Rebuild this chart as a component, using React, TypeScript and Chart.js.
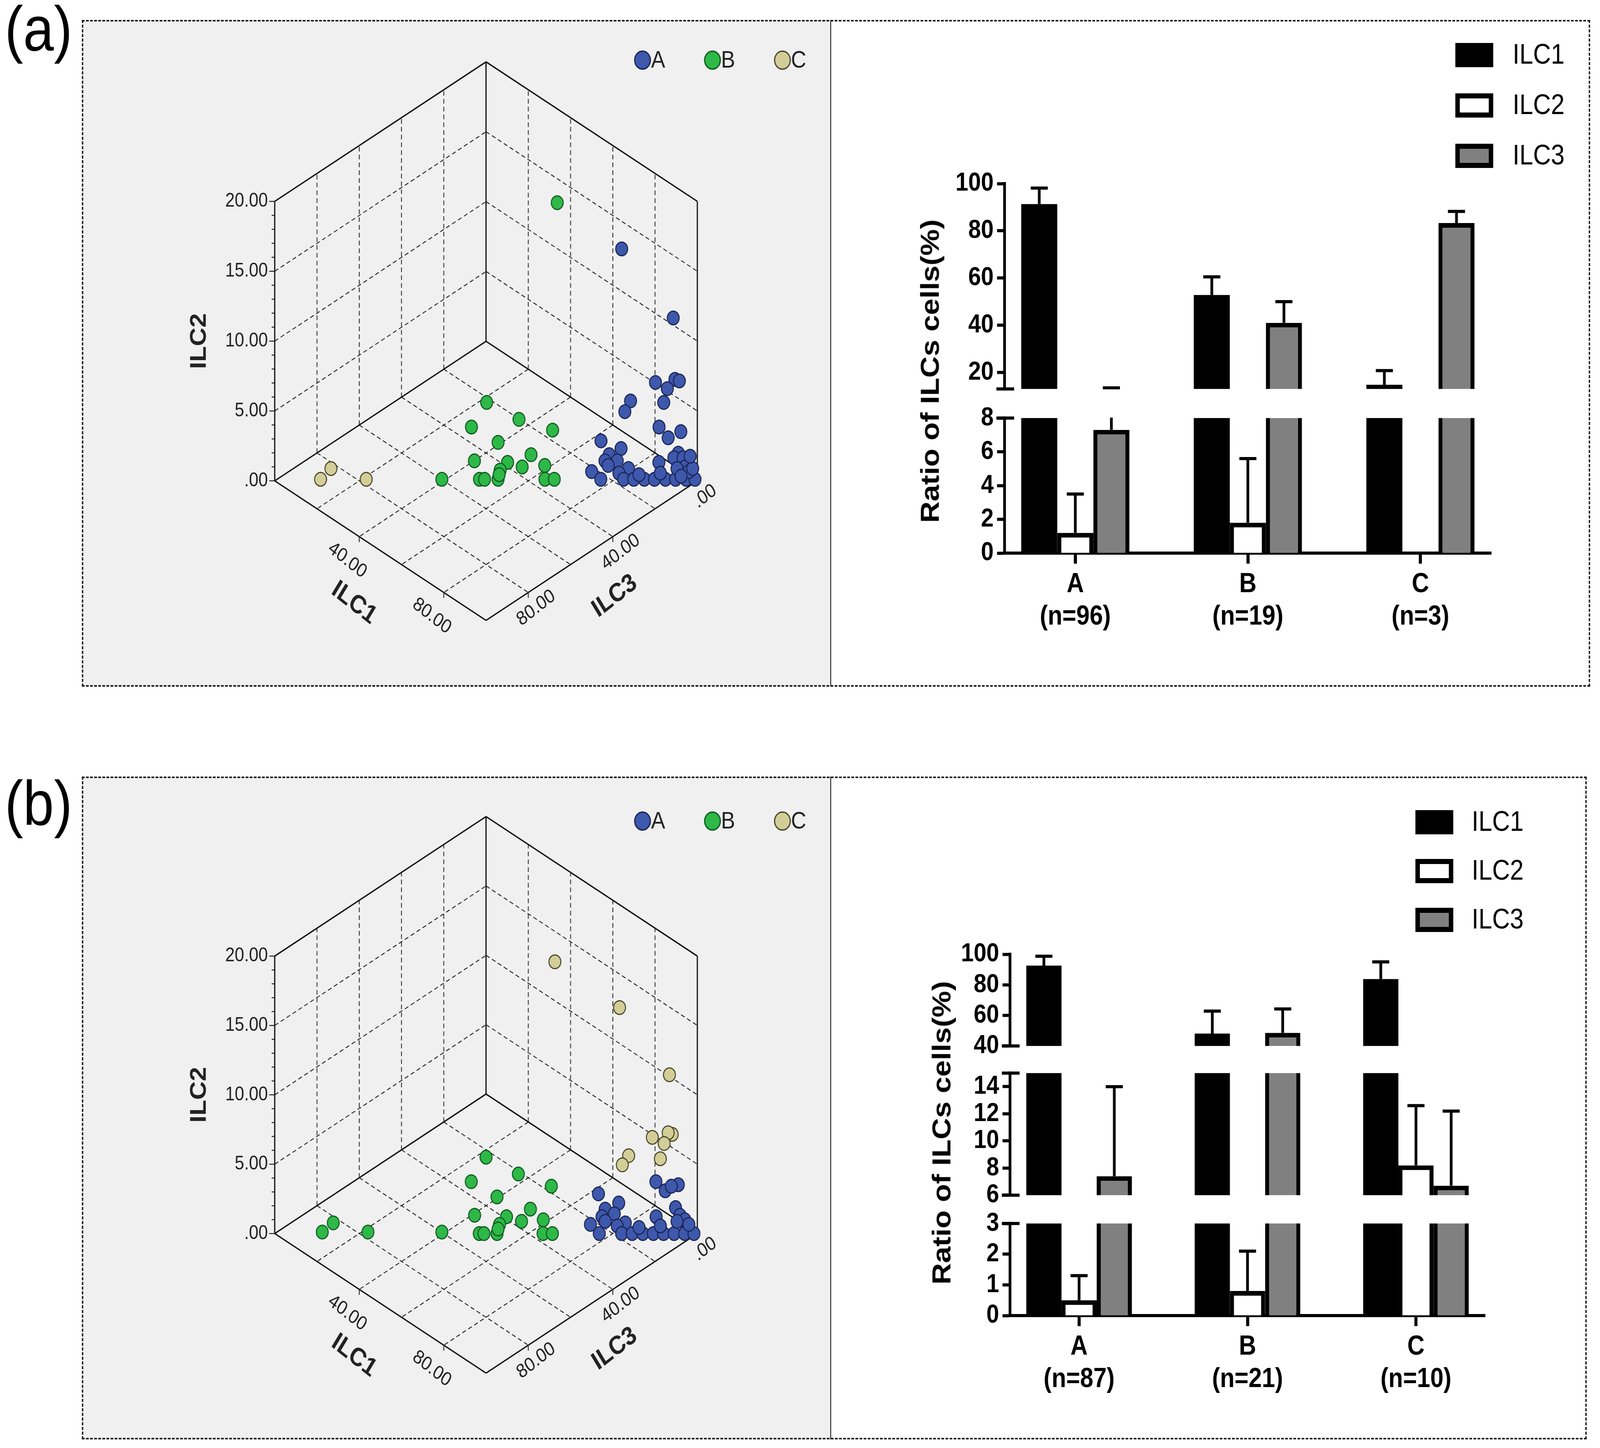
import { useEffect, useRef } from "react";
import { Chart, registerables } from "chart.js";

Chart.register(...registerables);

const FONT = '"Liberation Sans", Arial, Helvetica, sans-serif';
const PAGE_W = 4689;
const PAGE_H = 3707;

// the layout below is written in 4689 x 3707 figure pixels; fit it to the real viewport
const hasWin = typeof window !== "undefined";
const fitX = () => (hasWin && window.innerWidth ? window.innerWidth / PAGE_W : 1);
const fitY = () => (hasWin && window.innerHeight ? window.innerHeight / PAGE_H : 1);
const canvasRatio = () => Math.max(fitX(), fitY()) * ((hasWin && window.devicePixelRatio) || 1);

// ---------------- bar chart data (mean and SD, percent) ----------------
const cellTypes = ["ILC1", "ILC2", "ILC3"];
const groupTicks = [0, 1, 2];

const labelsA = [["A", "(n=96)"], ["B", "(n=19)"], ["C", "(n=3)"]];
const meanA_ILC1 = [91.3, 52.8, 14.8];
const sdA_ILC1 = [6.8, 7.7, 6.0];
const meanA_ILC2 = [1.2, 1.8, 0];
const sdA_ILC2 = [2.3, 3.8, 0];
const meanA_ILC3 = [7.3, 41.0, 83.3];
const sdA_ILC3 = [6.15, 9.0, 4.9];

const labelsB = [["A", "(n=87)"], ["B", "(n=21)"], ["C", "(n=10)"]];
const meanB_ILC1 = [92.6, 48.1, 83.8];
const sdB_ILC1 = [6.1, 14.7, 11.2];
const meanB_ILC2 = [0.5, 0.8, 8.2];
const sdB_ILC2 = [0.8, 1.3, 4.4];
const meanB_ILC3 = [7.4, 48.6, 6.7];
const sdB_ILC3 = [6.6, 15.6, 5.5];

const barFills = ["#000000", "#ffffff", "#808080"];

// ---------------- 3-D scatter data (ILC1 / ILC2 / ILC3 per sample) ----------------
// panel (a)
const a_A_ilc1 = [74.6, 89.0, 86.9, 91.4, 89.9, 92.5, 89.5, 81.6, 80.6, 89.2, 94.5, 91.7, 75.9, 80.9, 78.3, 94.6, 80.4, 77.5, 78.4, 74.7, 77.1, 83.3, 90.3, 93.7, 95.9, 81.2, 82.5, 84.9, 87.4, 89.8, 92.4, 94.8, 97.3, 99.4, 96.6, 94.8, 97.7, 86.0, 91.0, 96.0, 98.5, 97.5];
const a_A_ilc2 = [15.1, 10.6, 6.4, 6.6, 6.0, 6.5, 5.1, 5.2, 4.5, 3.5, 3.2, 2.8, 2.6, 2.1, 1.7, 1.8, 1.3, 1.3, 1.0, 0.6, 0.1, 0.8, 1.2, 1.5, 1.5, 0.5, 0.1, 0.1, 0.1, 0.1, 0.1, 0.1, 0.1, 0.1, 0.9, 0.8, 0.6, 0.4, 0.5, 0.3, 0.8, 1.6];
const a_A_ilc3 = [10.4, 0.4, 6.7, 2.0, 4.1, 1.0, 5.4, 13.2, 14.9, 7.3, 2.3, 5.5, 21.5, 17.0, 20.0, 3.6, 18.3, 21.2, 20.6, 24.7, 22.8, 15.9, 8.5, 4.8, 2.6, 18.3, 17.4, 15.0, 12.5, 10.1, 7.5, 5.1, 2.6, 0.5, 2.5, 4.4, 1.7, 13.6, 8.5, 3.7, 0.7, 0.9];

const a_B_ilc1 = [57.8, 47.6, 55.8, 44.8, 64.1, 51.6, 59.8, 46.6, 54.5, 58.1, 63.4, 53.0, 39.5, 48.4, 49.6, 52.8, 52.9, 63.9, 66.1];
const a_B_ilc2 = [18.1, 5.1, 4.0, 3.5, 3.3, 2.5, 1.7, 1.3, 1.2, 0.9, 1.0, 0.7, 0.1, 0.1, 0.1, 0.1, 0.4, 0.1, 0.1];
const a_B_ilc3 = [24.1, 47.3, 40.2, 51.7, 32.6, 45.9, 38.5, 52.1, 44.3, 41.0, 35.6, 46.3, 60.4, 51.5, 50.3, 47.1, 46.7, 36.0, 33.8];

const a_C_ilc1 = [10.8, 12.9, 21.6];
const a_C_ilc2 = [0.1, 0.8, 0.1];
const a_C_ilc3 = [89.1, 86.3, 78.3];

// panel (b)
const b_A_ilc1 = [88.5, 93.9, 91.0, 92.3, 75.3, 80.4, 77.4, 79.7, 76.9, 77.8, 74.4, 76.8, 82.6, 89.7, 94.0, 95.3, 96.9, 80.8, 82.1, 84.6, 87.1, 89.6, 92.0, 94.5, 97.0, 99.2, 96.6, 94.8, 97.7, 86.0, 91.0];
const b_A_ilc2 = [3.4, 3.2, 2.8, 3.1, 2.6, 2.0, 1.6, 1.3, 1.1, 0.8, 0.6, 0.0, 0.7, 1.1, 1.7, 1.2, 0.7, 0.5, 0.0, 0.0, 0.0, 0.0, 0.0, 0.0, 0.0, 0.0, 0.9, 0.8, 0.6, 0.4, 0.5];
const b_A_ilc3 = [8.1, 2.9, 6.2, 4.6, 22.1, 17.6, 21.0, 19.0, 22.0, 21.4, 25.0, 23.2, 16.7, 9.2, 4.3, 3.5, 2.4, 18.7, 17.9, 15.4, 12.9, 10.4, 8.0, 5.5, 3.0, 0.8, 2.5, 4.4, 1.7, 13.6, 8.5];

const b_B_ilc1 = [11.2, 13.5, 22.0, 39.5, 47.5, 55.7, 44.8, 63.9, 51.4, 59.7, 46.7, 54.3, 58.0, 63.1, 52.9, 48.4, 49.5, 52.6, 52.7, 63.5, 65.7];
const b_B_ilc2 = [0.1, 0.7, 0.1, 0.1, 5.0, 3.9, 3.4, 3.1, 2.4, 1.6, 1.2, 1.1, 0.8, 0.9, 0.6, 0.0, 0.0, 0.0, 0.3, 0.0, 0.0];
const b_B_ilc3 = [88.7, 85.8, 77.9, 60.4, 47.5, 40.4, 51.8, 33.0, 46.2, 38.7, 52.1, 44.6, 41.2, 36.0, 46.5, 51.6, 50.5, 47.4, 47.0, 36.5, 34.3];

const b_C_ilc1 = [57.4, 74.2, 88.2, 86.2, 90.8, 89.8, 89.2, 81.2, 80.0, 88.8];
const b_C_ilc2 = [17.8, 14.8, 10.4, 6.3, 6.5, 6.6, 5.9, 5.1, 4.5, 4.9];
const b_C_ilc3 = [24.8, 11.0, 1.4, 7.5, 2.7, 3.6, 4.9, 13.7, 15.5, 6.3];

const dotFills = ["#3E58AC", "#2EB848", "#D3CE97"];
const dotEdges = ["#1A2556", "#0E5A1E", "#4B472C"];

// oblique projection of the SPSS cube: ILC1 and ILC3 on the floor, ILC2 up
const FLOOR_X = 6.31;
const FLOOR_Y = 3.66;
function project(i1: number, i2: number, i3: number, wall: number) {
  return { x: FLOOR_X * (i1 - i3), y: FLOOR_Y * (i1 + i3) - (wall / 20) * i2 };
}

type Group = { name: string; ilc1: number[]; ilc2: number[]; ilc3: number[] };
type ScatterCfg = {
  left: number; top: number; width: number; height: number;
  kx: number; ky: number; wall: number;
  groups: Group[];
  legendX: number[]; legendY: number;
};

function makeCubePlugin(cfg: ScatterCfg) {
  return {
    id: "cube",
    beforeDatasetsDraw(chart: any) {
      const { ctx } = chart;
      const xs = chart.scales.x;
      const ys = chart.scales.y;
      const P = (a: number, b: number, c: number): [number, number] => {
        const p = project(a, b, c, cfg.wall);
        return [xs.getPixelForValue(p.x), ys.getPixelForValue(p.y)];
      };
      const line = (p: [number, number], q: [number, number]) => {
        ctx.beginPath();
        ctx.moveTo(p[0], p[1]);
        ctx.lineTo(q[0], q[1]);
        ctx.stroke();
      };
      ctx.save();
      // dashed grid on walls and floor
      ctx.strokeStyle = "#2b2b2b";
      ctx.lineWidth = 2.5;
      ctx.setLineDash([12, 8]);
      for (const g of [20, 40, 60, 80]) {
        line(P(0, 0, g), P(0, 20, g));
        line(P(g, 0, 0), P(g, 20, 0));
        line(P(g, 0, 0), P(g, 0, 100));
        line(P(0, 0, g), P(100, 0, g));
      }
      for (const h of [5, 10, 15]) {
        line(P(0, h, 100), P(0, h, 0));
        line(P(0, h, 0), P(100, h, 0));
      }
      // solid edges
      ctx.setLineDash([]);
      ctx.strokeStyle = "#111";
      ctx.lineWidth = 3.5;
      const L0 = P(0, 0, 100), K0 = P(0, 0, 0), R0 = P(100, 0, 0), F0 = P(100, 0, 100);
      const L1 = P(0, 20, 100), K1 = P(0, 20, 0), R1 = P(100, 20, 0);
      [[L0, K0], [K0, R0], [L0, F0], [F0, R0], [L0, L1], [K0, K1], [R0, R1], [L1, K1], [K1, R1]].forEach(
        ([p, q]) => line(p as [number, number], q as [number, number])
      );

      ctx.fillStyle = "#222";
      ctx.strokeStyle = "#222";
      ctx.lineWidth = 2.5;
      // ILC2 axis (left vertical edge)
      for (let v = 0; v <= 20; v++) {
        const [x, y] = P(0, v, 100);
        line([x, y], [x - (v % 5 === 0 ? 16 : 9), y]);
      }
      ctx.font = `50px ${FONT}`;
      ctx.textAlign = "right";
      ctx.textBaseline = "middle";
      for (const v of [0, 5, 10, 15, 20]) {
        const [x, y] = P(0, v, 100);
        ctx.fillText(v === 0 ? ".00" : v.toFixed(2), x - 20, y);
      }
      const rotText = (t: string, x: number, y: number, ang: number, font: string) => {
        ctx.save();
        ctx.translate(x, y);
        ctx.rotate(ang);
        ctx.font = font;
        ctx.textAlign = "center";
        ctx.textBaseline = "middle";
        ctx.fillText(t, 0, 0);
        ctx.restore();
      };
      // ILC1 axis (front-left edge)
      const ang1 = Math.atan2(F0[1] - L0[1], F0[0] - L0[0]);
      const n1 = [-Math.sin(ang1), Math.cos(ang1)];
      for (const v of [40, 80]) {
        const [x, y] = P(v, 0, 100);
        line([x, y], [x, y + 14]);
        rotText(v.toFixed(2), x + n1[0] * 70, y + n1[1] * 70, ang1 + 0.08, `50px ${FONT}`);
      }
      rotText("ILC1", (L0[0] + F0[0]) / 2 + n1[0] * 155, (L0[1] + F0[1]) / 2 + n1[1] * 155, ang1 + 0.08, `bold 66px ${FONT}`);
      // ILC3 axis (front-right edge)
      const ang3 = Math.atan2(R0[1] - F0[1], R0[0] - F0[0]);
      const n3 = [-Math.sin(ang3), Math.cos(ang3)];
      for (const v of [0, 40, 80]) {
        const [x, y] = P(100, 0, v);
        line([x, y], [x, y + 14]);
        rotText(v === 0 ? ".00" : v.toFixed(2), x + n3[0] * 46, y + n3[1] * 46, ang3 - 0.08, `50px ${FONT}`);
      }
      rotText("ILC3", (F0[0] + R0[0]) / 2 + n3[0] * 135, (F0[1] + R0[1]) / 2 + n3[1] * 135, ang3 - 0.08, `bold 66px ${FONT}`);
      // ILC2 title
      const mid = P(0, 10, 100);
      rotText("ILC2", L0[0] - 220, mid[1], -Math.PI / 2, `bold 66px ${FONT}`);
      ctx.restore();
    },
    afterDraw(chart: any) {
      const { ctx } = chart;
      ctx.save();
      chart.data.datasets.forEach((ds: any, i: number) => {
        const cx = cfg.legendX[i] - cfg.left;
        const cy = cfg.legendY - cfg.top;
        ctx.beginPath();
        ctx.arc(cx, cy, 23, 0, Math.PI * 2);
        ctx.fillStyle = ds.backgroundColor;
        ctx.fill();
        ctx.lineWidth = 3.5;
        ctx.strokeStyle = ds.borderColor;
        ctx.stroke();
        ctx.fillStyle = "#222";
        ctx.font = `62px ${FONT}`;
        ctx.textAlign = "left";
        ctx.textBaseline = "middle";
        ctx.fillText(ds.label, cx + 25, cy + 2);
      });
      ctx.restore();
    },
  };
}

function Scatter3D({ cfg }: { cfg: ScatterCfg }) {
  const ref = useRef<HTMLCanvasElement>(null);
  useEffect(() => {
    const chart = new Chart(ref.current!, {
      type: "scatter",
      data: {
        datasets: cfg.groups.map((g, gi) => ({
          label: g.name,
          data: g.ilc1.map((v, i) => project(v, g.ilc2[i], g.ilc3[i], cfg.wall)),
          backgroundColor: dotFills[gi],
          borderColor: dotEdges[gi],
          borderWidth: 3,
          pointRadius: 17.5,
        })),
      },
      options: {
        animation: false,
        responsive: true,
        maintainAspectRatio: false,
        devicePixelRatio: canvasRatio(),
        events: [],
        layout: { padding: 0 },
        scales: {
          x: { type: "linear", display: false, min: cfg.left - cfg.kx, max: cfg.left + cfg.width - cfg.kx },
          y: { type: "linear", display: false, reverse: true, min: cfg.top - cfg.ky, max: cfg.top + cfg.height - cfg.ky },
        },
        plugins: { legend: { display: false }, tooltip: { enabled: false } },
      },
      plugins: [makeCubePlugin(cfg)],
    } as any);
    return () => chart.destroy();
  }, [cfg]);
  return (
    <div style={{ position: "absolute", left: cfg.left, top: cfg.top, width: cfg.width, height: cfg.height }}>
      <canvas ref={ref} />
    </div>
  );
}

type Seg = { min: number; max: number; top: number; bottom: number; ticks: number[] };
type BarCfg = {
  labels: string[][];
  means: number[][];
  sds: number[][];
  axisX: number;
  xEnd: number;
  segs: Seg[];
  legendBox: number;
  legendText: number;
  legendY: number[];
  titleX: number;
  titleY: number;
};

const CANVAS_L = 2620;
const CANVAS_R = 4655;
const Y_AXIS_W = 150;
const X_AXIS_H = 230;

function BarSegment({ cfg, index }: { cfg: BarCfg; index: number }) {
  const ref = useRef<HTMLCanvasElement>(null);
  const seg = cfg.segs[index];
  const first = index === 0;
  const last = index === cfg.segs.length - 1;
  const padTop = first ? seg.top - (cfg.legendY[0] - 60) : 50;
  const padBottom = last ? 10 : 50;
  const top = seg.top - padTop;
  const height = padTop + (seg.bottom - seg.top) + (last ? X_AXIS_H : 0) + padBottom;

  useEffect(() => {
    const extras = {
      id: "extras",
      afterDatasetsDraw(chart: any) {
        const { ctx, chartArea } = chart;
        const ys = chart.scales.y;
        ctx.save();
        ctx.beginPath();
        ctx.rect(0, chartArea.top - 1, chart.width, chartArea.bottom - chartArea.top + 2);
        ctx.clip();
        ctx.strokeStyle = "#000";
        ctx.lineWidth = 8;
        chart.data.datasets.forEach((ds: any, di: number) => {
          chart.getDatasetMeta(di).data.forEach((bar: any, i: number) => {
            const sd = ds.sd[i];
            if (!sd) return;
            const v = ds.data[i];
            const y0 = ys.getPixelForValue(v);
            const y1 = ys.getPixelForValue(v + sd);
            ctx.beginPath();
            ctx.moveTo(bar.x, y0);
            ctx.lineTo(bar.x, y1);
            ctx.moveTo(bar.x - 25, y1);
            ctx.lineTo(bar.x + 25, y1);
            ctx.stroke();
          });
        });
        ctx.restore();
      },
      afterDraw(chart: any) {
        const { ctx, chartArea } = chart;
        ctx.save();
        ctx.strokeStyle = "#000";
        ctx.lineWidth = 8;
        const ends: number[] = [];
        if (!first) ends.push(chartArea.top);
        if (!last) ends.push(chartArea.bottom);
        ends.forEach((y) => {
          ctx.beginPath();
          ctx.moveTo(chartArea.left - 24, y);
          ctx.lineTo(chartArea.left + 28, y);
          ctx.stroke();
        });
        if (first) {
          chart.data.datasets.forEach((ds: any, i: number) => {
            const cy = cfg.legendY[i] - top;
            const x = cfg.legendBox - CANVAS_L;
            ctx.fillStyle = "#000";
            ctx.fillRect(x, cy - 31, 111, 62);
            if (ds.borderWidth > 0) {
              ctx.fillStyle = ds.backgroundColor;
              ctx.fillRect(x + 13, cy - 18, 85, 36);
            }
            ctx.fillStyle = "#000";
            ctx.font = `72px ${FONT}`;
            ctx.textAlign = "left";
            ctx.textBaseline = "middle";
            ctx.fillText(ds.label, cfg.legendText - CANVAS_L, cy + 2);
          });
        }
        ctx.restore();
      },
    };

    const chart = new Chart(ref.current!, {
      type: "bar",
      data: {
        labels: groupTicks,
        datasets: cellTypes.map((name, i) => ({
          label: name,
          data: cfg.means[i],
          sd: cfg.sds[i],
          backgroundColor: barFills[i],
          borderColor: "#000",
          borderWidth: i === 0 ? 0 : 12,
          borderSkipped: "start",
          categoryPercentage: 0.627,
          barPercentage: 1,
          clip: 0,
        })),
      },
      options: {
        animation: false,
        responsive: true,
        maintainAspectRatio: false,
        devicePixelRatio: canvasRatio(),
        events: [],
        layout: {
          padding: {
            left: cfg.axisX - CANVAS_L - Y_AXIS_W,
            right: CANVAS_R - cfg.xEnd,
            top: padTop,
            bottom: padBottom,
          },
        },
        scales: {
          x: {
            type: "linear",
            min: -0.41,
            max: 2.41,
            offset: false,
            display: last,
            afterBuildTicks: (s: any) => {
              s.ticks = groupTicks.map((v) => ({ value: v }));
            },
            afterFit: (s: any) => {
              if (last) s.height = X_AXIS_H;
            },
            ticks: {
              autoSkip: false,
              maxRotation: 0,
              padding: 12,
              color: "#000",
              font: { family: FONT, size: 70, weight: "bold", lineHeight: 1.19 },
              callback: (_v: any, i: number) => cfg.labels[i],
            },
            grid: { offset: false, drawOnChartArea: false, drawTicks: true, tickLength: 27, tickWidth: 9, tickColor: "#000" },
            border: { display: true, color: "#000", width: 8 },
          },
          y: {
            type: "linear",
            min: seg.min,
            max: seg.max,
            afterBuildTicks: (s: any) => {
              s.ticks = seg.ticks.map((v) => ({ value: v }));
            },
            afterFit: (s: any) => {
              s.width = Y_AXIS_W;
            },
            ticks: { autoSkip: false, padding: 10, color: "#000", font: { family: FONT, size: 67, weight: "bold" } },
            grid: { drawOnChartArea: false, drawTicks: true, tickLength: 22, tickWidth: 8, tickColor: "#000" },
            border: { display: true, color: "#000", width: 8 },
          },
        },
        plugins: { legend: { display: false }, tooltip: { enabled: false } },
      },
      plugins: [extras],
    } as any);
    return () => chart.destroy();
  }, [cfg, index]);

  return (
    <div style={{ position: "absolute", left: CANVAS_L, top, width: CANVAS_R - CANVAS_L, height }}>
      <canvas ref={ref} />
    </div>
  );
}

function BrokenBars({ cfg }: { cfg: BarCfg }) {
  return (
    <>
      {cfg.segs.map((_s, i) => (
        <BarSegment key={i} cfg={cfg} index={i} />
      ))}
      <div
        style={{
          position: "absolute",
          left: cfg.titleX,
          top: cfg.titleY,
          transform: "translate(-50%, -50%) rotate(-90deg)",
          whiteSpace: "nowrap",
          font: `bold 76px ${FONT}`,
          color: "#000",
        }}
      >
        Ratio of ILCs cells(%)
      </div>
    </>
  );
}

const scatterA: ScatterCfg = {
  left: 240, top: 51, width: 2196, height: 1707,
  kx: 1426, ky: 873, wall: 733,
  groups: [
    { name: "A", ilc1: a_A_ilc1, ilc2: a_A_ilc2, ilc3: a_A_ilc3 },
    { name: "B", ilc1: a_B_ilc1, ilc2: a_B_ilc2, ilc3: a_B_ilc3 },
    { name: "C", ilc1: a_C_ilc1, ilc2: a_C_ilc2, ilc3: a_C_ilc3 },
  ],
  legendX: [1883, 2088, 2293],
  legendY: 154,
};

const scatterB: ScatterCfg = {
  left: 240, top: 1988, width: 2196, height: 1697,
  kx: 1426, ky: 2800, wall: 728,
  groups: [
    { name: "A", ilc1: b_A_ilc1, ilc2: b_A_ilc2, ilc3: b_A_ilc3 },
    { name: "B", ilc1: b_B_ilc1, ilc2: b_B_ilc2, ilc3: b_B_ilc3 },
    { name: "C", ilc1: b_C_ilc1, ilc2: b_C_ilc2, ilc3: b_C_ilc3 },
  ],
  legendX: [1883, 2088, 2293],
  legendY: 2102,
};

const barsA: BarCfg = {
  labels: labelsA,
  means: [meanA_ILC1, meanA_ILC2, meanA_ILC3],
  sds: [sdA_ILC1, sdA_ILC2, sdA_ILC3],
  axisX: 2944,
  xEnd: 4370,
  segs: [
    { min: 13, max: 100, top: 470, bottom: 996, ticks: [20, 40, 60, 80, 100] },
    { min: 0, max: 8, top: 1070, bottom: 1416, ticks: [0, 2, 4, 6, 8] },
  ],
  legendBox: 4265,
  legendText: 4433,
  legendY: [141, 270, 399],
  titleX: 2725,
  titleY: 950,
};

const barsB: BarCfg = {
  labels: labelsB,
  means: [meanB_ILC1, meanB_ILC2, meanB_ILC3],
  sds: [sdB_ILC1, sdB_ILC2, sdB_ILC3],
  axisX: 2960,
  xEnd: 4352,
  segs: [
    { min: 40, max: 100, top: 2443, bottom: 2678, ticks: [40, 60, 80, 100] },
    { min: 6, max: 15, top: 2747, bottom: 3060, ticks: [6, 8, 10, 12, 14] },
    { min: 0, max: 3, top: 3132, bottom: 3368, ticks: [0, 1, 2, 3] },
  ],
  legendBox: 4148,
  legendText: 4313,
  legendY: [2105, 2230, 2355],
  titleX: 2759,
  titleY: 2900,
};

function Panel({ label, labelTop, frame, scatter, bars }: { label: string; labelTop: number; frame: { left: number; top: number; right: number; bottom: number }; scatter: ScatterCfg; bars: BarCfg }) {
  return (
    <>
      <div
        style={{
          position: "absolute",
          left: scatter.left,
          top: scatter.top,
          width: scatter.width,
          height: scatter.height,
          background: "#f0f0f0",
          borderRight: "3px solid #3a3a3a",
          boxSizing: "border-box",
        }}
      />
      <div
        style={{
          position: "absolute",
          left: frame.left,
          top: frame.top,
          width: frame.right - frame.left,
          height: frame.bottom - frame.top,
          border: "4px dashed #1a1a1a",
          boxSizing: "border-box",
        }}
      />
      <div style={{ position: "absolute", left: 14, top: labelTop, font: `162px ${FONT}`, lineHeight: 1, color: "#000" }}>{label}</div>
      <Scatter3D cfg={scatter} />
      <BrokenBars cfg={bars} />
    </>
  );
}

export default function App() {
  const kx = fitX();
  const ky = fitY();
  return (
    <div
      style={{
        position: "absolute",
        left: 0,
        top: 0,
        width: PAGE_W * kx,
        height: PAGE_H * ky,
        overflow: "hidden",
        background: "#fff",
      }}
    >
      <div
        style={{
          position: "absolute",
          left: 0,
          top: 0,
          width: PAGE_W,
          height: PAGE_H,
          transform: `scale(${kx}, ${ky})`,
          transformOrigin: "0 0",
        }}
      >
        <Panel label="(a)" labelTop={-8} frame={{ left: 240, top: 51, right: 4660, bottom: 1758 }} scatter={scatterA} bars={barsA} />
        <Panel label="(b)" labelTop={1975} frame={{ left: 240, top: 1988, right: 4650, bottom: 3685 }} scatter={scatterB} bars={barsB} />
      </div>
    </div>
  );
}
